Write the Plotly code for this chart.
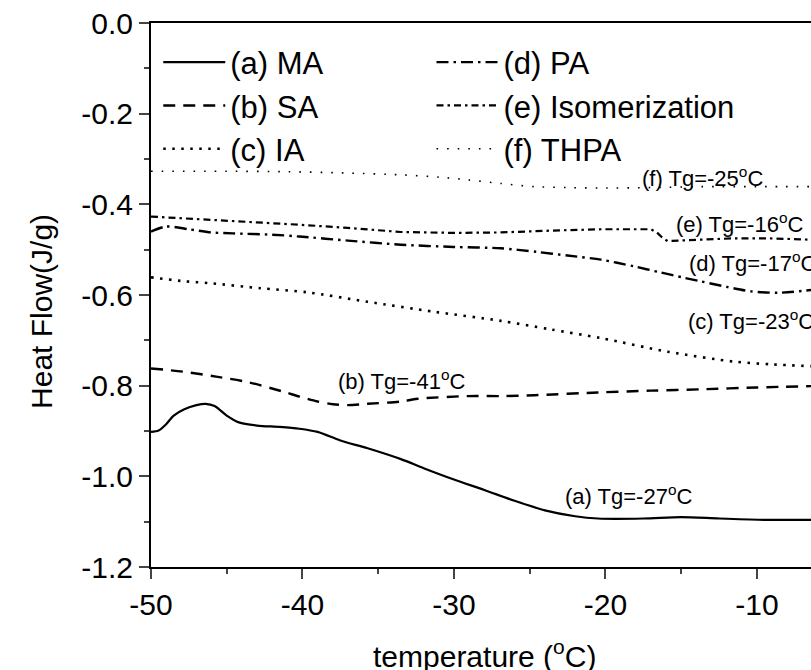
import plotly.graph_objects as go

# DSC heat-flow curves, temperature in degC, heat flow in J/g
ma_t = [-50, -49.5, -49.0, -48.5, -47.8, -47.0, -46.4, -45.8, -45.0, -44.2, -43.0, -41.5, -40.2,
        -39.0, -37.5, -35.7, -33.5, -32.0, -30.0, -28.0, -26.0, -24.0, -22.0, -20.5,
        -17.5, -15.0, -12.5, -9.5, -6.4]
ma_hf = [-0.902, -0.899, -0.885, -0.866, -0.852, -0.843, -0.840, -0.845, -0.866, -0.881, -0.888,
         -0.891, -0.895, -0.902, -0.921, -0.938, -0.962, -0.982, -1.007, -1.030, -1.054, -1.075,
         -1.088, -1.093, -1.093, -1.090, -1.093, -1.096, -1.096]

sa_t = [-50, -47.9, -45.7, -43.5, -41.3, -40.2, -39.0, -38.0, -37.0, -35.7, -33.5, -32.4, -29.1,
        -26.9, -24.7, -20.5, -17.0, -13.7, -10.0, -6.4]
sa_hf = [-0.762, -0.769, -0.780, -0.793, -0.813, -0.824, -0.835, -0.841, -0.843, -0.840, -0.835,
         -0.829, -0.823, -0.823, -0.821, -0.815, -0.811, -0.808, -0.804, -0.801]

ia_t = [-50, -48, -46.1, -42.8, -39.7, -35.7, -31.3, -26.9, -23.6, -20.3, -15.9, -11.5, -9.0, -6.4]
ia_hf = [-0.561, -0.569, -0.574, -0.585, -0.594, -0.615, -0.637, -0.657, -0.676, -0.695, -0.725,
         -0.747, -0.753, -0.757]

pa_t = [-50, -49.0, -47.5, -46.0, -44.6, -42.0, -40.2, -37.0, -33.5, -30.0, -26.9, -24.5, -22.5,
        -20.3, -18.1, -16.4, -14.8, -13.7, -12.0, -10.4, -8.6, -6.4]
pa_hf = [-0.460, -0.449, -0.455, -0.462, -0.464, -0.467, -0.471, -0.480, -0.489, -0.494, -0.497,
         -0.505, -0.513, -0.522, -0.537, -0.550, -0.562, -0.570, -0.582, -0.592, -0.595, -0.589]

iso_t = [-50, -47, -44, -40.2, -37, -33.5, -30, -26.9, -23.6, -20.3, -17.0, -16.6, -16.2, -15.9,
         -14.5, -13.7, -11.5, -9.3, -6.4]
iso_hf = [-0.427, -0.432, -0.438, -0.445, -0.452, -0.461, -0.463, -0.462, -0.458, -0.455, -0.455,
          -0.462, -0.475, -0.481, -0.479, -0.478, -0.475, -0.475, -0.478]

thpa_t = [-50, -45, -41, -37, -33.5, -31, -29.1, -26.9, -24.7, -22.5, -20.3, -17, -13.7, -10, -6.4]
thpa_hf = [-0.327, -0.327, -0.328, -0.331, -0.335, -0.340, -0.346, -0.354, -0.361, -0.363, -0.364,
           -0.363, -0.361, -0.361, -0.361]

series_names = ["(a) MA", "(b) SA", "(c) IA", "(d) PA", "(e) Isomerization", "(f) THPA"]
tg_labels = ["(a) Tg=-27<sup>o</sup>C", "(b) Tg=-41<sup>o</sup>C", "(c) Tg=-23<sup>o</sup>C",
             "(d) Tg=-17<sup>o</sup>C", "(e) Tg=-16<sup>o</sup>C", "(f) Tg=-25<sup>o</sup>C"]
tg_label_t = [-22.8, -37.8, -14.7, -14.6, -15.5, -17.7]
tg_label_hf = [-1.041, -0.788, -0.655, -0.527, -0.441, -0.339]

x_ticks = [-50, -40, -30, -20, -10]
x_ticktext = ["-50", "-40", "-30", "-20", "-10"]
y_ticks = [0.0, -0.2, -0.4, -0.6, -0.8, -1.0, -1.2]
y_ticktext = ["0.0", "-0.2", "-0.4", "-0.6", "-0.8", "-1.0", "-1.2"]

FONT = "Liberation Sans, Arial, sans-serif"

styles = [
    dict(width=2.2, dash="solid"),
    dict(width=2.4, dash="12px,8px"),
    dict(width=2.6, dash="2.5px,6.5px"),
    dict(width=2.4, dash="12px,5px,2.5px,5px"),
    dict(width=2.2, dash="7px,4px,2.5px,4px"),
    dict(width=1.6, dash="1.6px,9px"),
]
data = [(ma_t, ma_hf), (sa_t, sa_hf), (ia_t, ia_hf), (pa_t, pa_hf), (iso_t, iso_hf), (thpa_t, thpa_hf)]

fig = go.Figure()
for i, ((t, hf), name, st) in enumerate(zip(data, series_names, styles)):
    fig.add_trace(go.Scatter(
        x=t, y=hf, mode="lines", name=name,
        line=dict(color="black", width=st["width"], dash=st["dash"],
                  shape="linear" if i == 4 else "spline", smoothing=0.8),
        legend="legend" if i < 3 else "legend2",
    ))

for txt, t, hf in zip(tg_labels, tg_label_t, tg_label_hf):
    fig.add_annotation(x=t, y=hf, text=txt, showarrow=False, xanchor="left", yanchor="middle",
                       font=dict(family=FONT, size=22, color="black"))

# axis titles
fig.add_annotation(xref="paper", yref="paper", x=0.505, y=-0.16, text="temperature (<sup>o</sup>C)",
                   showarrow=False, xanchor="center", yanchor="middle",
                   font=dict(family=FONT, size=30, color="black"))
fig.add_annotation(xref="paper", yref="paper", x=-0.165, y=0.469, text="Heat Flow(J/g)", textangle=-90,
                   showarrow=False, xanchor="center", yanchor="middle",
                   font=dict(family=FONT, size=30, color="black"))

legend_common = dict(bgcolor="rgba(0,0,0,0)", font=dict(family=FONT, size=31, color="black"),
                     xanchor="left", yanchor="top", tracegroupgap=0, itemwidth=62)

fig.update_layout(
    width=811, height=670,
    margin=dict(l=151, r=0, t=23, b=103),
    paper_bgcolor="white", plot_bgcolor="white",
    font=dict(family=FONT, size=30, color="black"),
    showlegend=True,
    legend=dict(x=0.011, y=0.977, **legend_common),
    legend2=dict(x=0.425, y=0.977, **legend_common),
    xaxis=dict(range=[-50, -6.43], tickvals=x_ticks, ticktext=x_ticktext, ticks="outside",
               ticklen=10, tickwidth=2, showline=True, linewidth=2, linecolor="black", mirror=True,
               showgrid=False, zeroline=False, tickfont=dict(family=FONT, size=30),
               minor=dict(dtick=5, ticks="outside", ticklen=5, tickwidth=2, showgrid=False)),
    yaxis=dict(range=[-1.2, 0.0], tickvals=y_ticks, ticktext=y_ticktext, ticks="outside",
               ticklen=10, tickwidth=2, showline=True, linewidth=2, linecolor="black", mirror=False,
               showgrid=False, zeroline=False, tickfont=dict(family=FONT, size=30),
               minor=dict(dtick=0.1, ticks="outside", ticklen=5, tickwidth=2, showgrid=False)),
)

fig.write_html("out.html")
